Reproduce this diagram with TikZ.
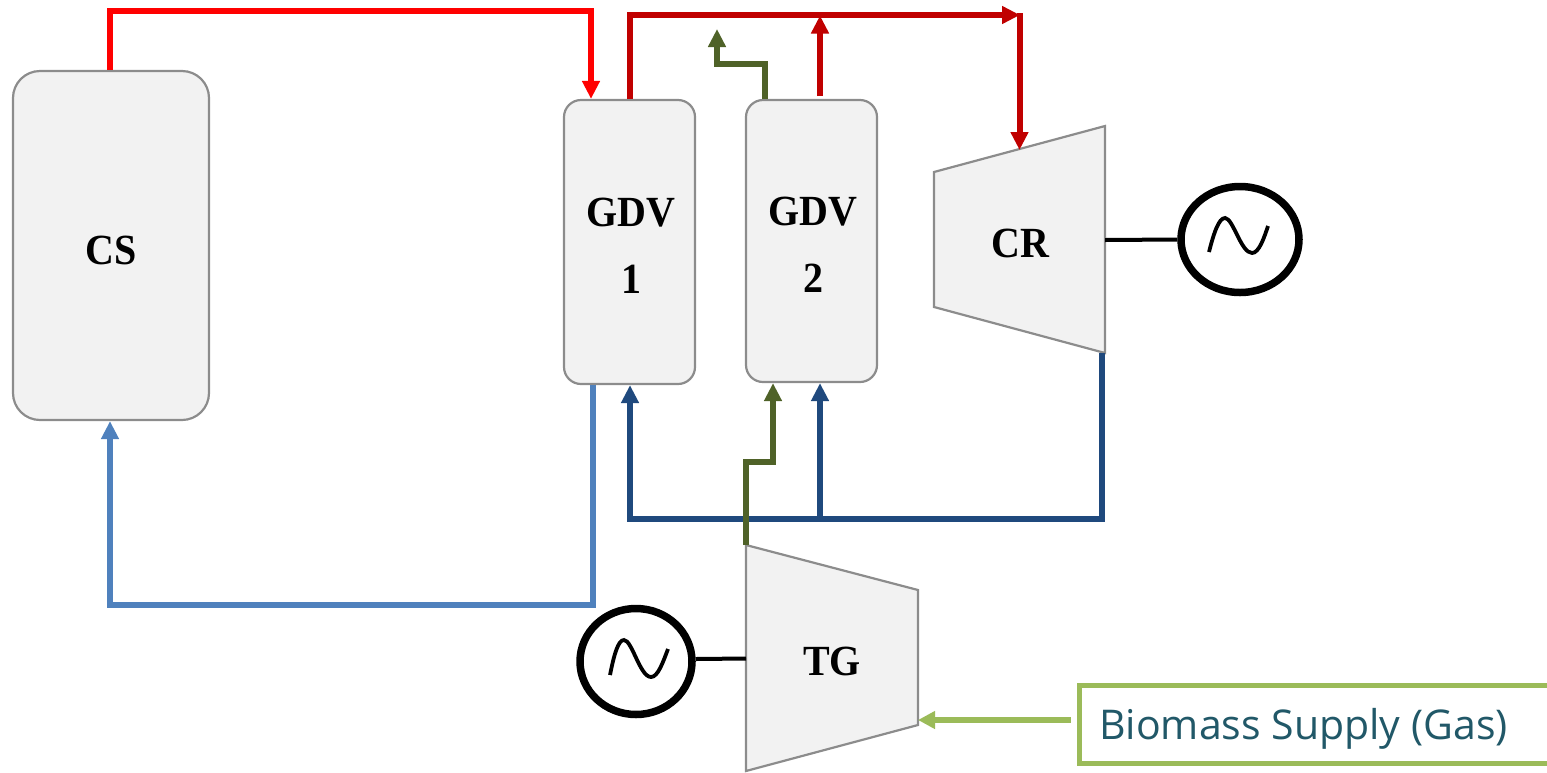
\documentclass[tikz,border=0pt]{standalone}
\usepackage{fontspec}
\setmainfont{Liberation Serif}
\newfontfamily\labelsans{Open Sans}
\newfontfamily\labelserif[FakeStretch=0.93]{Liberation Serif}
\usetikzlibrary{arrows.meta,shapes.geometric}
\definecolor{boxfill}{HTML}{F2F2F2}
\definecolor{boxline}{HTML}{8C8C8C}
\definecolor{hotred}{HTML}{FF0000}
\definecolor{darkred}{HTML}{C00000}
\definecolor{olive}{HTML}{4F6228}
\definecolor{navy}{HTML}{1F497D}
\definecolor{steel}{HTML}{4F81BD}
\definecolor{lime}{HTML}{9BBB59}
\definecolor{teal}{HTML}{215868}
\tikzset{
  unit/.style={draw=boxline,fill=boxfill,line width=2.2pt,rounded corners=#1,minimum height=0pt,inner sep=0pt},
  unitlabel/.style={font=\labelserif\fontsize{43}{67}\selectfont\bfseries,align=center,inner sep=0pt},
  flow/.style={line width=6pt,-{Triangle[width=17pt,length=18pt]},miter limit=10},
  flowplain/.style={line width=6pt},
  shaft/.style={draw=black,line width=4pt},
  gen/.style={draw=black,line width=7.5pt,ellipse,fill=white,inner sep=0pt},
  wave/.style={draw=black,line width=3.8pt}
}
\begin{document}
\begin{tikzpicture}[x=1pt,y=-1pt]
\useasboundingbox (0,0) rectangle (1547,772);
% vessels
\node[unit=27pt,minimum width=196pt,minimum height=349pt] (cs) at (111,245.5) {};
\node[unitlabel] (cslabel) at (111,250) {CS};
\node[unit=17pt,minimum width=131pt,minimum height=284pt] (gdv1) at (629.5,242) {};
\node[unitlabel] (gdv1label) at (631,246) {GDV\\1};
\node[unit=17pt,minimum width=131pt,minimum height=282pt] (gdv2) at (811.5,241) {};
\node[unitlabel] (gdv2label) at (813,244.5) {GDV\\2};
% turbines
\coordinate (crA) at (934,172);
\coordinate (crB) at (1105,126);
\coordinate (crC) at (1105,353);
\coordinate (crD) at (934,307);
\draw[draw=boxline,fill=boxfill,line width=2.2pt] (crA) -- (crB) -- (crC) -- (crD) -- cycle;
\node[unitlabel] (crlabel) at (1020,243) {CR};
\coordinate (tgA) at (746,545);
\coordinate (tgB) at (918,590);
\coordinate (tgC) at (918,725);
\coordinate (tgD) at (746,771);
\draw[draw=boxline,fill=boxfill,line width=2.2pt] (tgA) -- (tgB) -- (tgC) -- (tgD) -- cycle;
\node[unitlabel] (tglabel) at (832,661) {TG};
% generators
\node[gen,minimum width=118pt,minimum height=106pt] (gen1) at (1240,239.5) {};
\node[gen,minimum width=112pt,minimum height=106pt] (gen2) at (636,661.5) {};
\draw[wave] (1209,252) .. controls (1214,232) and (1219,218) .. (1225,218) .. controls (1233,218) and (1241,253) .. (1252,253) .. controls (1259,253) and (1264,238) .. (1268,226);
\draw[wave] (610,675) .. controls (614,655) and (618,640) .. (624,640) .. controls (632,640) and (640,677) .. (651,677) .. controls (658,677) and (663,662) .. (668,649);
% supply box
\node[draw=lime,line width=5pt,fill=white,minimum width=500pt,minimum height=78pt,inner sep=0pt] (supply) at (1329,724.5) {};
\node[font=\labelsans\fontsize{41}{48}\selectfont,text=teal,inner sep=0pt,anchor=base west] (supplylabel) at (1099,739) {Biomass Supply (Gas)};
% free ends
\coordinate (junctionTop) at (1020,15);
\coordinate (oliveEnd) at (717,29);
\coordinate (crTop) at (1019.5,150);
\coordinate (darkTee) at (820,15.5);
\coordinate (navyTee) at (820,519);
% connectors
\draw[flow,hotred] (cs.north -| 110,0) |- (591,11) -- (gdv1.north -| 591,0);
\draw[flow,darkred] (gdv1.north) |- (junctionTop);
\draw[flow,darkred] (1019.5,13) -- (crTop);
\draw[flow,darkred] (820,96) -- (darkTee);
\draw[flow,olive] (gdv2.north -| 765,0) -- (765,64) -- (717,64) -- (oliveEnd);
\draw[flow,navy] (crC -| 1102,0) -- (1102,519) -- (630,519) -- (gdv1.south -| 630,0);
\draw[flow,navy] (navyTee) -- (gdv2.south -| 820,0);
\draw[flow,olive] (tgA) -- (746,462) -- (773,462) -- (gdv2.south -| 773,0);
\draw[flow,steel] (gdv1.south -| 593,0) -- (593,605) -- (110,605) -- (cs.south -| 110,0);
\draw[shaft] (crB |- 0,240) -- (gen1.west |- 0,239.5);
\draw[shaft] (gen2.east |- 0,659) -- (tgA |- 0,658.5);
\draw[line width=5.5pt,lime,-{Triangle[width=17pt,length=17pt]}] (supply.west |- 0,720) ++(-6,0) -- (tgC |- 0,720);
\end{tikzpicture}
\end{document}
